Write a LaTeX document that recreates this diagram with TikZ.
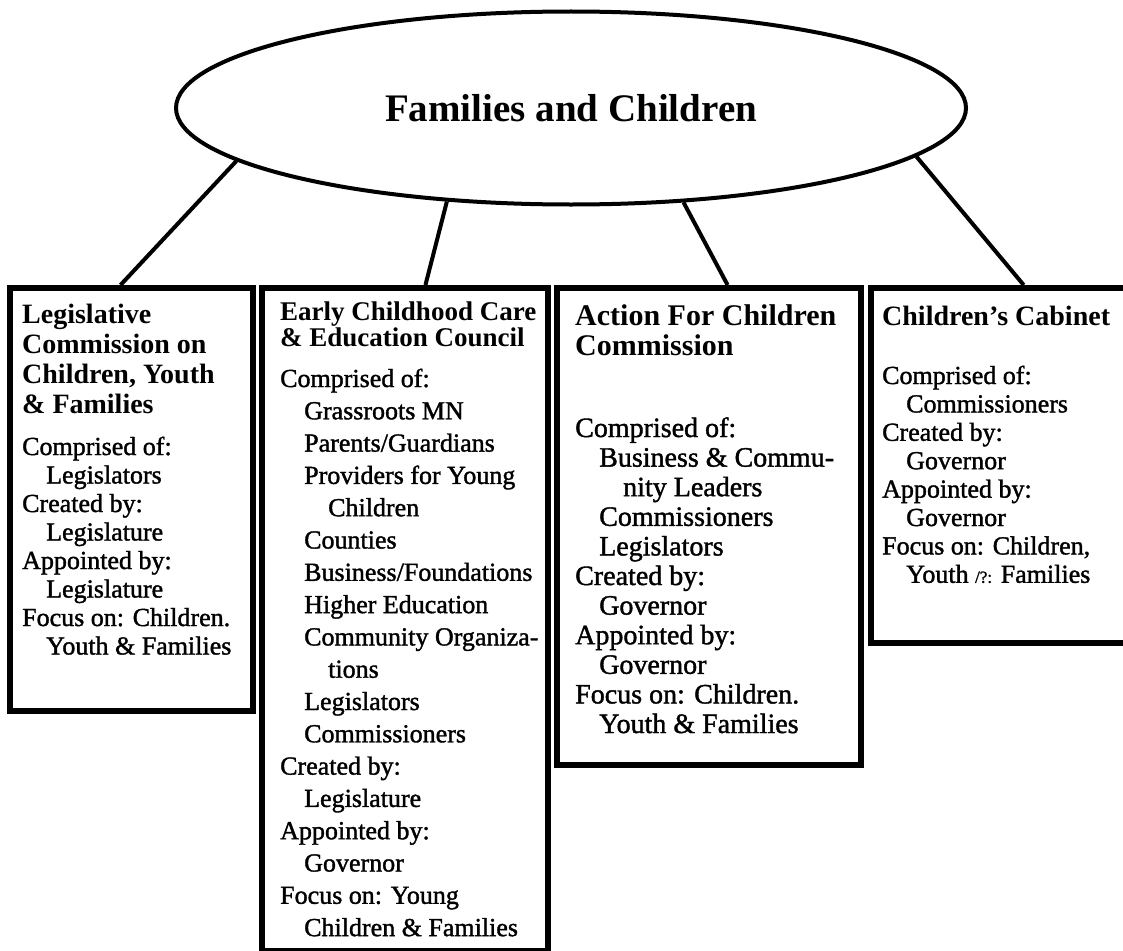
\documentclass[tikz,border=0pt]{standalone}
\usepackage{fontspec}
\setmainfont{Liberation Serif}
\newfontfamily\bodyfont{Liberation Serif}[FakeBold=1.4]
\usetikzlibrary{shapes.geometric,calc}

\tikzset{
  hub/.style={ellipse, draw, line width=4pt, inner sep=0pt,
    minimum width=790pt, minimum height=193pt},
  panel/.style={draw, line width=6pt, inner sep=0pt, anchor=north west},
  conn/.style={line width=4pt},
  headtxt/.style={inner sep=0pt, anchor=base west,
    font=\fontsize{28}{28}\selectfont\bfseries},
  bodytxt/.style={inner sep=0pt, anchor=base west,
    font=\fontsize{26}{26}\selectfont\bodyfont}
}

% one column of text lines: name prefix, left x, first baseline, leading, list of indent/text
\newcommand\headcol[6][]{%
  \foreach \ind/\txt [count=\i from 0] in {#6} {
    \node[headtxt,#1] (#2h\i) at ({#3+\ind*24}, {#4+\i*#5}) {\txt};
  }}
\newcommand\bodycol[6][]{%
  \foreach \ind/\txt [count=\i from 0] in {#6} {
    \node[bodytxt,#1] (#2b\i) at ({#3+\ind*24}, {#4+\i*#5}) {\txt};
  }}

\begin{document}
\begin{tikzpicture}[x=1pt, y=-1pt]
\useasboundingbox (0,0) rectangle (1123,950);
\clip (0,0) rectangle (1123,950);

% central ellipse
\node[hub] (fam) at (571,108)
  {\fontsize{39}{39}\selectfont\bfseries Families and Children};

% the four panels
\node[panel, minimum width=243pt, minimum height=423pt] (b1) at (7,285) {};
\node[panel, minimum width=286pt, minimum height=663pt] (b2) at (259,285) {};
\node[panel, minimum width=304pt, minimum height=477pt] (b3) at (554,285) {};
\node[panel, minimum width=272pt, minimum height=355pt] (b4) at (868,285) {};

% connectors from the ellipse to each panel
\draw[conn] (fam.189.5) -- ($(b1.north west)!0.456!(b1.north east)$);
\draw[conn] (fam.217.2) -- ($(b2.north west)!0.57!(b2.north east)$);
\draw[conn] (fam.320.1) -- ($(b3.north west)!0.56!(b3.north east)$);
\draw[conn] (fam.352.6) -- ($(b4.north west)!0.56!(b4.north east)$);

% panel 1
\headcol{p1}{22}{323}{30}{0/Legislative, 0/Commission on, 0/{Children, Youth}, 0/\& Families}
\bodycol{p1}{22}{455}{28.5}{0/Comprised of:, 1/Legislators, 0/Created by:,
  1/Legislature, 0/Appointed by:, 1/Legislature, 0/Focus on: Children.,
  1/Youth \& Families}

% panel 2
\headcol[font=\fontsize{27}{27}\selectfont\bfseries]{p2}{280}{320}{26}%
  {0/Early Childhood Care, 0/\& Education Council}
\bodycol{p2}{280}{387}{32.3}{0/Comprised of:, 1/Grassroots MN, 1/{Parents/Guardians},
  1/Providers for Young, 2/Children, 1/Counties, 1/{Business/Foundations},
  1/Higher Education, 1/Community Organiza-, 2/tions, 1/Legislators,
  1/Commissioners, 0/Created by:, 1/Legislature, 0/Appointed by:,
  1/Governor, 0/Focus on: Young, 1/Children \& Families}

% panel 3
\headcol[font=\fontsize{30}{30}\selectfont\bfseries]{p3}{575}{325}{30}%
  {0/Action For Children, 0/Commission}
\bodycol[font=\fontsize{28}{28}\selectfont\bodyfont]{p3}{575}{437}{29.6}%
  {0/Comprised of:, 1/Business \& Commu-, 2/nity Leaders,
  1/Commissioners, 1/Legislators, 0/Created by:, 1/Governor, 0/Appointed by:,
  1/Governor, 0/Focus on: Children., 1/Youth \& Families}

% panel 4
\headcol{p4}{882}{325}{30}{0/Children's Cabinet}
\bodycol{p4}{882}{384}{28.4}{0/Comprised of:, 1/Commissioners, 0/Created by:,
  1/Governor, 0/Appointed by:, 1/Governor, 0/{Focus on: Children,},
  1/{Youth {\fontsize{17}{17}\selectfont/?:} Families}}
\end{tikzpicture}
\end{document}
